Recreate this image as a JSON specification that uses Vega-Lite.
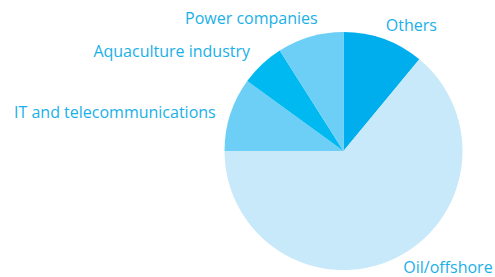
{
  "$schema": "https://vega.github.io/schema/vega-lite/v6.json",
  "autosize": {"type": "none"},
  "width": 238,
  "height": 238,
  "padding": {"left": 224.5, "top": 32, "right": 32.5, "bottom": 7},
  "background": "white",
  "config": {"view": {"stroke": null}},
  "data": {
    "values": [
      {"sector": "Others", "share": 11, "rank": 1},
      {"sector": "Oil/offshore", "share": 64, "rank": 2},
      {"sector": "IT and telecommunications", "share": 10, "rank": 3},
      {"sector": "Aquaculture industry", "share": 6, "rank": 4},
      {"sector": "Power companies", "share": 9, "rank": 5}
    ]
  },
  "encoding": {
    "theta": {"field": "share", "type": "quantitative", "stack": true},
    "order": {"field": "rank", "type": "quantitative"}
  },
  "layer": [
    {
      "mark": {"type": "arc", "radius": 119, "strokeWidth": 0},
      "encoding": {
        "color": {
          "field": "sector",
          "type": "nominal",
          "scale": {
            "domain": ["Others", "Oil/offshore", "IT and telecommunications", "Aquaculture industry", "Power companies"],
            "range": ["#00aeed", "#c7e9f9", "#6dcff6", "#00b9f0", "#6dcff6"]
          },
          "legend": null
        }
      }
    },
    {
      "mark": {"type": "text", "radius": 119, "align": "left", "baseline": "alphabetic", "dx": 2, "dy": -8.3, "font": "Open Sans", "fontSize": 16, "color": "#1ab0e8"},
      "encoding": {"text": {"condition": {"test": "datum.sector === 'Others'", "field": "sector"}, "value": ""}}
    },
    {
      "mark": {"type": "text", "radius": 119, "align": "left", "baseline": "alphabetic", "dx": 9.1, "dy": 14, "font": "Open Sans", "fontSize": 16, "color": "#1ab0e8"},
      "encoding": {"text": {"condition": {"test": "datum.sector === 'Oil/offshore'", "field": "sector"}, "value": ""}}
    },
    {
      "mark": {"type": "text", "radius": 119, "align": "right", "baseline": "alphabetic", "dx": -14.6, "dy": 4.1, "font": "Open Sans", "fontSize": 16, "color": "#1ab0e8"},
      "encoding": {"text": {"condition": {"test": "datum.sector === 'IT and telecommunications'", "field": "sector"}, "value": ""}}
    },
    {
      "mark": {"type": "text", "radius": 119, "align": "right", "baseline": "alphabetic", "dx": -12, "dy": -7.5, "font": "Open Sans", "fontSize": 16, "color": "#1ab0e8"},
      "encoding": {"text": {"condition": {"test": "datum.sector === 'Aquaculture industry'", "field": "sector"}, "value": ""}}
    },
    {
      "mark": {"type": "text", "radius": 119, "align": "right", "baseline": "alphabetic", "dx": 7.4, "dy": -12.4, "font": "Open Sans", "fontSize": 16, "color": "#1ab0e8"},
      "encoding": {"text": {"condition": {"test": "datum.sector === 'Power companies'", "field": "sector"}, "value": ""}}
    }
  ]
}
